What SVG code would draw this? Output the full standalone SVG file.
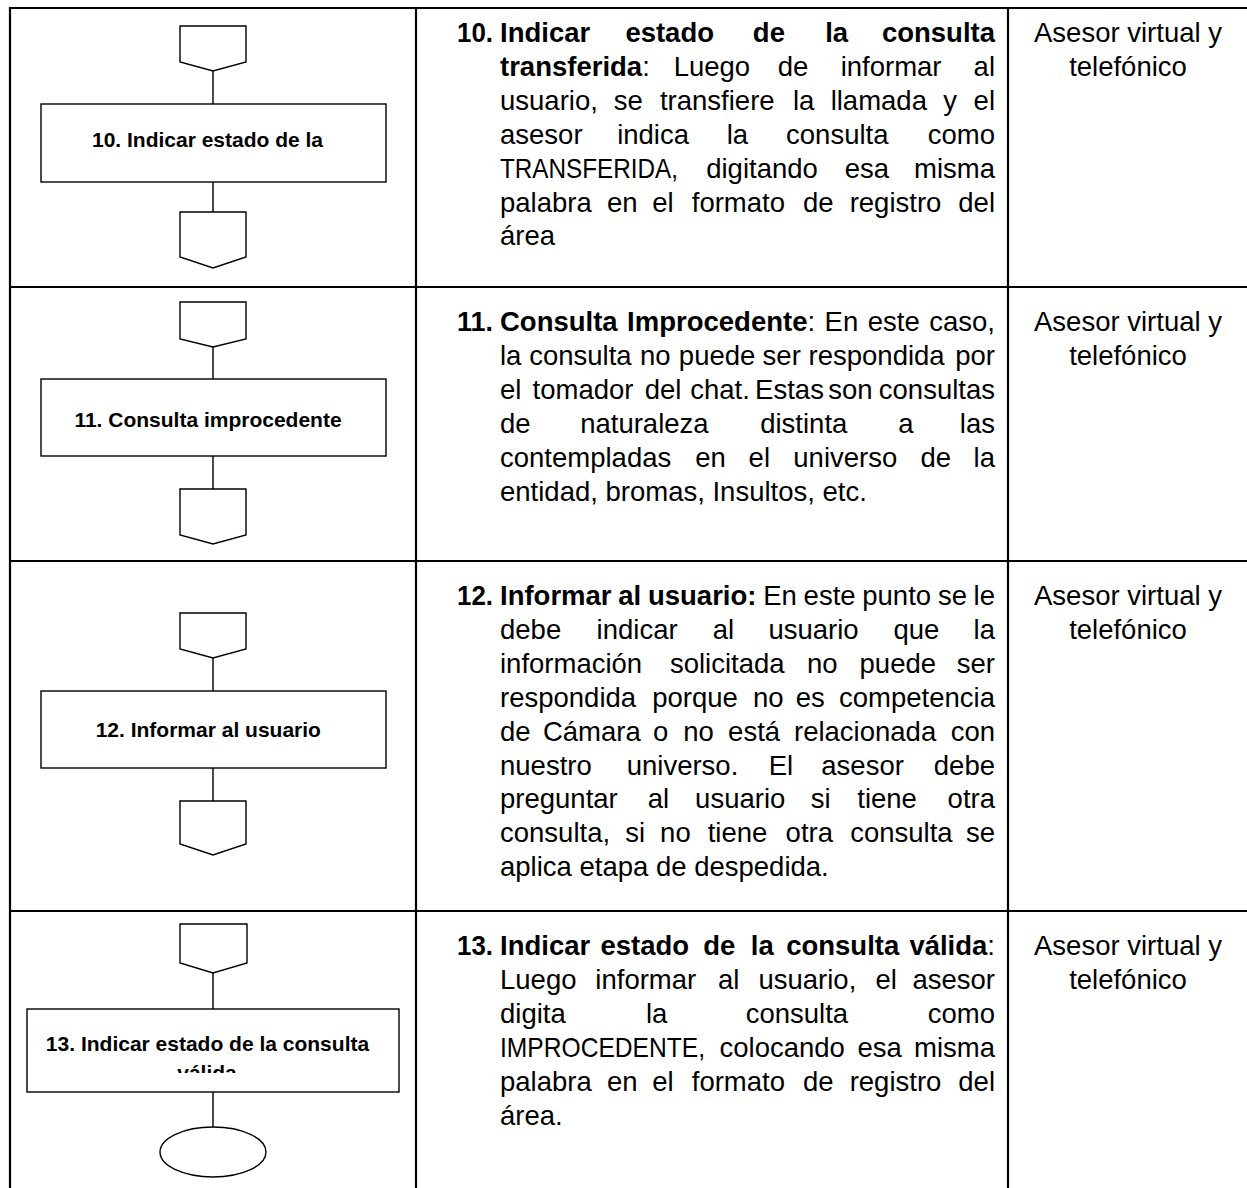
<svg xmlns="http://www.w3.org/2000/svg" width="1247" height="1188" viewBox="0 0 1247 1188">
<style>
.grid{stroke:#000;stroke-width:2.2;fill:none}
.shape{stroke:#000;stroke-width:1.4;fill:#fff}
.conn{stroke:#000;stroke-width:1.4;fill:none}
.t{font-family:'Liberation Sans',Arial,sans-serif;font-size:27.5px;fill:#000}
.b{font-weight:bold}
.nt{font-family:'Liberation Sans',Arial,sans-serif;font-size:21px;font-weight:bold;fill:#000;text-anchor:middle}
.m{text-anchor:middle}
</style>
<defs>
<clipPath id="clip13"><rect x="27" y="1009" width="372" height="64"/></clipPath>
</defs>
<rect x="0" y="0" width="1247" height="1188" fill="#fff"/>
<g id="table" class="grid">
<line x1="10" y1="8" x2="1247" y2="8"/>
<line x1="10" y1="287" x2="1247" y2="287"/>
<line x1="10" y1="561" x2="1247" y2="561"/>
<line x1="10" y1="911" x2="1247" y2="911"/>
<line x1="10" y1="7" x2="10" y2="1188"/>
<line x1="416" y1="7" x2="416" y2="1188"/>
<line x1="1008" y1="7" x2="1008" y2="1188"/>
</g>
<g id="connectors" class="conn">
<line x1="213" y1="71" x2="213" y2="104"/>
<line x1="213" y1="182" x2="213" y2="212"/>
<line x1="213" y1="347" x2="213" y2="379"/>
<line x1="213" y1="456" x2="213" y2="489"/>
<line x1="213" y1="658" x2="213" y2="691"/>
<line x1="213" y1="768" x2="213" y2="801"/>
<line x1="213" y1="973" x2="213" y2="1009"/>
<line x1="213" y1="1092" x2="213" y2="1127"/>
</g>
<g id="node-10">
<path class="shape" d="M180,26 H246 V62 L213,71 L180,62 Z"/>
<rect class="shape" x="41" y="104" width="345" height="78"/>
<text class="nt" x="207.5" y="147">10. Indicar estado de la</text>
<path class="shape" d="M180,212 H246 V257 L213,268 L180,257 Z"/>
</g>
<g id="node-11">
<path class="shape" d="M180,302 H246 V339 L213,347 L180,339 Z"/>
<rect class="shape" x="41" y="379" width="345" height="77"/>
<text class="nt" x="208" y="427">11. Consulta improcedente</text>
<path class="shape" d="M180,489 H246 V535 L213,544 L180,535 Z"/>
</g>
<g id="node-12">
<path class="shape" d="M180,613 H246 V649 L213,658 L180,649 Z"/>
<rect class="shape" x="41" y="691" width="345" height="77"/>
<text class="nt" x="208.3" y="737">12. Informar al usuario</text>
<path class="shape" d="M180,801 H246 V844 L213,855 L180,844 Z"/>
</g>
<g id="node-13">
<path class="shape" d="M180,924 H247 V963 L213,973 L180,963 Z"/>
<rect class="shape" x="27" y="1009" width="372" height="83"/>
<g clip-path="url(#clip13)">
<text class="nt" x="207.5" y="1051">13. Indicar estado de la consulta</text>
<text class="nt" x="207" y="1080">válida</text>
</g>
<ellipse class="shape" cx="213" cy="1152" rx="53" ry="25"/>
</g>
<g id="desc-10" transform="translate(0,-12)">
<text class="t b" x="457" y="54" textLength="36" lengthAdjust="spacingAndGlyphs">10.</text>
<text class="t b m" y="54"><tspan x="500" text-anchor="start">Indicar</tspan><tspan x="669.7">estado</tspan><tspan x="768.9">de</tspan><tspan x="836.7">la</tspan><tspan x="995" text-anchor="end">consulta</tspan></text>
<text class="t m" y="87.9"><tspan x="500" text-anchor="start" class="b">transferida</tspan><tspan>:</tspan><tspan x="711.9">Luego</tspan><tspan x="793">de</tspan><tspan x="891.1">informar</tspan><tspan x="995" text-anchor="end">al</tspan></text>
<text class="t m" y="121.8"><tspan x="500" text-anchor="start">usuario,</tspan><tspan x="628.2">se</tspan><tspan x="717.3">transfiere</tspan><tspan x="803.7">la</tspan><tspan x="878.8">llamada</tspan><tspan x="950.2">y</tspan><tspan x="995" text-anchor="end">el</tspan></text>
<text class="t m" y="155.7"><tspan x="500" text-anchor="start">asesor</tspan><tspan x="653.1">indica</tspan><tspan x="737.4">la</tspan><tspan x="837.3">consulta</tspan><tspan x="995" text-anchor="end">como</tspan></text>
<text class="t m" y="189.6"><tspan x="500" text-anchor="start" textLength="178" lengthAdjust="spacingAndGlyphs">TRANSFERIDA,</tspan><tspan x="762">digitando</tspan><tspan x="866.8">esa</tspan><tspan x="995" text-anchor="end">misma</tspan></text>
<text class="t m" y="223.5"><tspan x="500" text-anchor="start">palabra</tspan><tspan x="622.2">en</tspan><tspan x="663">el</tspan><tspan x="738.4">formato</tspan><tspan x="818.3">de</tspan><tspan x="895.5">registro</tspan><tspan x="995" text-anchor="end">del</tspan></text>
<text class="t" x="500" y="257.4">área</text>
</g>
<g id="desc-11" transform="translate(0,6)">
<text class="t b" x="457" y="325" textLength="36" lengthAdjust="spacingAndGlyphs">11.</text>
<text class="t m" y="325"><tspan x="500" text-anchor="start" class="b">Consulta</tspan><tspan x="721.1"><tspan class="b">Improcedente</tspan>:</tspan><tspan x="841.4">En</tspan><tspan x="893.7">este</tspan><tspan x="995" text-anchor="end">caso,</tspan></text>
<text class="t m" y="358.9"><tspan x="500" text-anchor="start">la</tspan><tspan x="580.4">consulta</tspan><tspan x="655.3">no</tspan><tspan x="717.1">puede</tspan><tspan x="781.7">ser</tspan><tspan x="876.6">respondida</tspan><tspan x="995" text-anchor="end">por</tspan></text>
<text class="t m" y="392.8"><tspan x="500" text-anchor="start">el</tspan><tspan x="583">tomador</tspan><tspan x="663">del</tspan><tspan x="720">chat.</tspan><tspan x="789.5">Estas</tspan><tspan x="850.3">son</tspan><tspan x="995" text-anchor="end">consultas</tspan></text>
<text class="t m" y="426.7"><tspan x="500" text-anchor="start">de</tspan><tspan x="644.4">naturaleza</tspan><tspan x="803.8">distinta</tspan><tspan x="905.8">a</tspan><tspan x="995" text-anchor="end">las</tspan></text>
<text class="t m" y="460.6"><tspan x="500" text-anchor="start">contempladas</tspan><tspan x="710.5">en</tspan><tspan x="759.3">el</tspan><tspan x="845.3">universo</tspan><tspan x="935.7">de</tspan><tspan x="995" text-anchor="end">la</tspan></text>
<text class="t" x="500" y="494.5">entidad, bromas, Insultos, etc.</text>
</g>
<g id="desc-12" transform="translate(0,6)">
<text class="t b" x="457" y="599" textLength="36" lengthAdjust="spacingAndGlyphs">12.</text>
<text class="t m" y="599"><tspan x="500" text-anchor="start" class="b">Informar</tspan><tspan x="629.7" class="b">al</tspan><tspan x="702.2" class="b">usuario:</tspan><tspan x="780">En</tspan><tspan x="829.6">este</tspan><tspan x="896.7">punto</tspan><tspan x="952.4">se</tspan><tspan x="995" text-anchor="end">le</tspan></text>
<text class="t m" y="632.9"><tspan x="500" text-anchor="start">debe</tspan><tspan x="637.1">indicar</tspan><tspan x="723.4">al</tspan><tspan x="813.5">usuario</tspan><tspan x="916.4">que</tspan><tspan x="995" text-anchor="end">la</tspan></text>
<text class="t m" y="666.8"><tspan x="500" text-anchor="start">información</tspan><tspan x="727.3">solicitada</tspan><tspan x="822.2">no</tspan><tspan x="897.8">puede</tspan><tspan x="995" text-anchor="end">ser</tspan></text>
<text class="t m" y="700.7"><tspan x="500" text-anchor="start">respondida</tspan><tspan x="695.1">porque</tspan><tspan x="768.2">no</tspan><tspan x="810.3">es</tspan><tspan x="995" text-anchor="end">competencia</tspan></text>
<text class="t m" y="734.6"><tspan x="500" text-anchor="start">de</tspan><tspan x="591.8">Cámara</tspan><tspan x="660.7">o</tspan><tspan x="698.5">no</tspan><tspan x="754.1">está</tspan><tspan x="865.1">relacionada</tspan><tspan x="995" text-anchor="end">con</tspan></text>
<text class="t m" y="768.5"><tspan x="500" text-anchor="start">nuestro</tspan><tspan x="682.5">universo.</tspan><tspan x="780.9">El</tspan><tspan x="862.6">asesor</tspan><tspan x="995" text-anchor="end">debe</tspan></text>
<text class="t m" y="802.4"><tspan x="500" text-anchor="start">preguntar</tspan><tspan x="658.4">al</tspan><tspan x="740.2">usuario</tspan><tspan x="820.7">si</tspan><tspan x="887.1">tiene</tspan><tspan x="995" text-anchor="end">otra</tspan></text>
<text class="t m" y="836.3"><tspan x="500" text-anchor="start">consulta,</tspan><tspan x="635.3">si</tspan><tspan x="675.4">no</tspan><tspan x="737.5">tiene</tspan><tspan x="809.3">otra</tspan><tspan x="901.4">consulta</tspan><tspan x="995" text-anchor="end">se</tspan></text>
<text class="t" x="500" y="870.2">aplica etapa de despedida.</text>
</g>
<g id="desc-13" transform="translate(0,6)">
<text class="t b" x="457" y="949" textLength="36" lengthAdjust="spacingAndGlyphs">13.</text>
<text class="t b m" y="949"><tspan x="500" text-anchor="start">Indicar</tspan><tspan x="644.8">estado</tspan><tspan x="719.3">de</tspan><tspan x="762.3">la</tspan><tspan x="842.7">consulta</tspan><tspan x="995" text-anchor="end">válida<tspan font-weight="normal">:</tspan></tspan></text>
<text class="t m" y="982.9"><tspan x="500" text-anchor="start">Luego</tspan><tspan x="645.8">informar</tspan><tspan x="728.7">al</tspan><tspan x="807.4">usuario,</tspan><tspan x="886.2">el</tspan><tspan x="995" text-anchor="end">asesor</tspan></text>
<text class="t m" y="1016.8"><tspan x="500" text-anchor="start">digita</tspan><tspan x="656.7">la</tspan><tspan x="796.9">consulta</tspan><tspan x="995" text-anchor="end">como</tspan></text>
<text class="t m" y="1050.7"><tspan x="500" text-anchor="start" textLength="205" lengthAdjust="spacingAndGlyphs">IMPROCEDENTE,</tspan><tspan x="782.2">colocando</tspan><tspan x="879.6">esa</tspan><tspan x="995" text-anchor="end">misma</tspan></text>
<text class="t m" y="1084.6"><tspan x="500" text-anchor="start">palabra</tspan><tspan x="622.2">en</tspan><tspan x="663">el</tspan><tspan x="738.4">formato</tspan><tspan x="818.3">de</tspan><tspan x="895.5">registro</tspan><tspan x="995" text-anchor="end">del</tspan></text>
<text class="t" x="500" y="1118.5">área.</text>
</g>
<g id="roles">
<text class="t m" x="1128" y="42">Asesor virtual y</text>
<text class="t m" x="1128" y="75.9">telefónico</text>
<text class="t m" x="1128" y="331">Asesor virtual y</text>
<text class="t m" x="1128" y="364.9">telefónico</text>
<text class="t m" x="1128" y="605">Asesor virtual y</text>
<text class="t m" x="1128" y="638.9">telefónico</text>
<text class="t m" x="1128" y="955">Asesor virtual y</text>
<text class="t m" x="1128" y="988.9">telefónico</text>
</g>
</svg>
